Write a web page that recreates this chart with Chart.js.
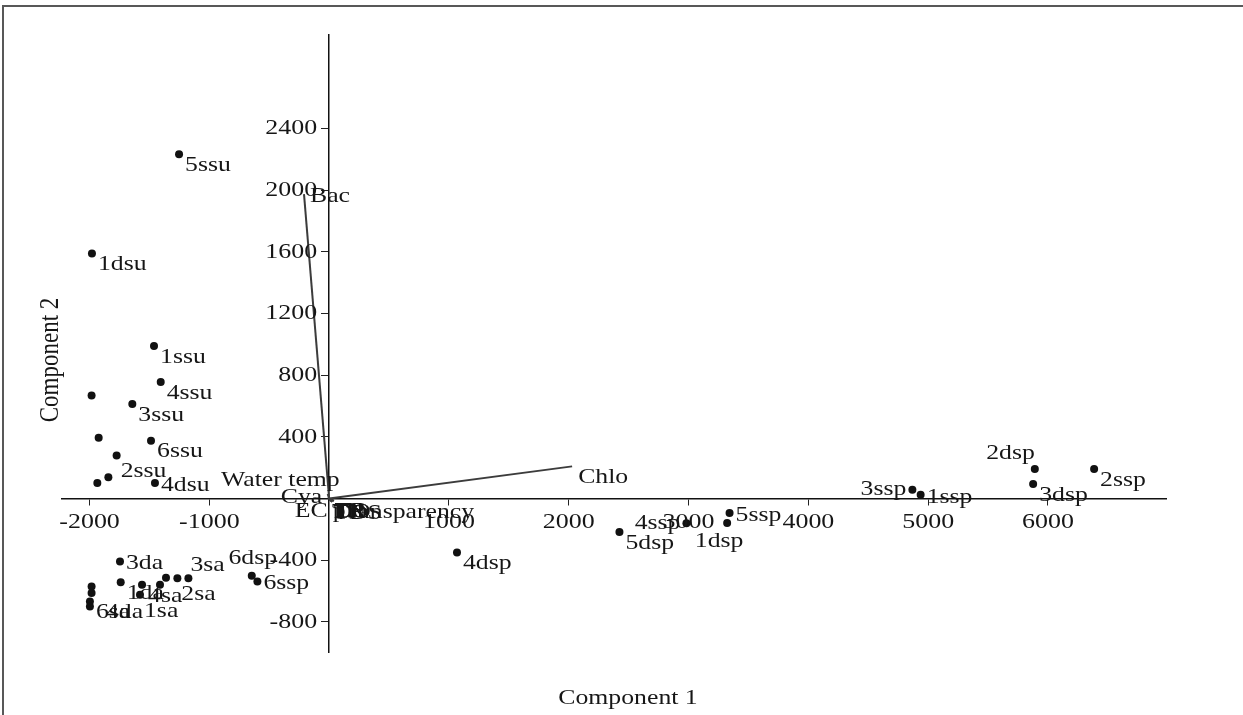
<!DOCTYPE html>
<html>
<head>
<meta charset="utf-8">
<script src="https://cdn.jsdelivr.net/npm/chart.js@4.4.1/dist/chart.umd.min.js"></script>
<style>
  html, body { margin: 0; padding: 0; background: #fff; }
  canvas { display: block; }
</style>
</head>
<body>
<canvas id="pca" width="1243" height="715"></canvas>
<script>
// Sample scores on the first two principal components
const sampleNames = [
  '5ssu', '1dsu', '1ssu', '4ssu', '', '3ssu', '', '6ssu', '2ssu', '', '', '4dsu',
  '3da', '1da', '4sa', '1sa', '', '', '2sa', '3sa', '6sa', '4da', '', '',
  '6dsp', '6ssp', '4dsp', '5dsp', '4ssp', '1dsp', '5ssp', '3ssp', '1ssp', '2dsp', '3dsp', '2ssp'
];
const comp1 = [
  -1253, -1980, -1462, -1406, -1983, -1643, -1924, -1487, -1774, -1843, -1935, -1454,
  -1746, -1740, -1562, -1579, -1362, -1412, -1267, -1175, -1997, -1997, -1983, -1983,
  -646, -599, 1067, 2423, 2982, 3322, 3342, 4868, 4937, 5890, 5876, 6385
];
const comp2 = [
  2233, 1590, 989, 757, 668, 614, 394, 376, 279, 138, 101, 101,
  -408, -542, -559, -624, -514, -559, -516, -516, -668, -700, -570, -613,
  -501, -538, -349, -217, -160, -158, -93, 58, 25, 192, 95, 192
];

// Variable loadings drawn as vectors from the origin
const variableNames = ['Bac', 'Chlo', 'Water temp', 'Cya', 'EC', 'pH', 'DO', 'TN', 'TP', 'TDS', 'Transparency'];
const loading1 = [-210, 2028, -12, -8, -4, 22, 30, 16, 36, 26, 40];
const loading2 = [1975, 209, 30, 8, -6, -10, -14, -18, -8, -22, -16];

// Axis tick values
const xTickValues = [-2000, -1000, 1000, 2000, 3000, 4000, 5000, 6000];
const yTickValues = [-800, -400, 400, 800, 1200, 1600, 2000, 2400];

// Where each label sits relative to its point: [dx, dy, align]
const ANCHORS = {
  r:   [6, 11, 'left'],
  r2:  [4, 16, 'left'],
  e:   [6, 2, 'left'],
  ne:  [2, -13, 'left'],
  n:   [1, -18, 'center'],
  sw:  [-8, 18, 'center'],
  w:   [-6, 0, 'right'],
  nw:  [0, -16, 'right'],
  far: [16, 6, 'left'],
  up:  [12, -14, 'right'],
  swr: [-1, 12, 'right'],
  se:  [1, 11, 'left']
};
const sampleAnchor = [
  'r', 'r', 'r', 'r', 'r', 'r', 'r', 'r', 'r2', 'r', 'r', 'e',
  'e', 'r', 'r', 'r2', 'r', 'r', 'r2', 'ne', 'r', 'far', 'r', 'r',
  'n', 'e', 'r', 'r', 'w', 'sw', 'e', 'w', 'e', 'nw', 'r', 'r'
];
const variableAnchor = ['e', 'r', 'up', 'w', 'swr', 'se', 'se', 'se', 'se', 'se', 'se'];

const SERIF = '"Liberation Serif", "Times New Roman", serif';
const LABEL_STRETCH = 1.17;
const TICK_STRETCH = 1.18;
const INK = '#161616';

// Text widened horizontally on the page (also when the text itself is rotated)
function stretchedText(ctx, text, x, y, align, stretch, rotate) {
  ctx.save();
  ctx.translate(x, y);
  ctx.scale(stretch, 1);
  if (rotate) ctx.rotate(rotate);
  ctx.textAlign = align;
  ctx.textBaseline = 'middle';
  ctx.fillText(text, 0, 0);
  ctx.restore();
}

const scorePoints = comp1.map((v, i) => ({ x: v, y: comp2[i] }));

const vectorSets = variableNames.map((name, i) => ({
  label: name,
  type: 'line',
  data: [{ x: 0, y: 0 }, { x: loading1[i], y: loading2[i] }],
  borderColor: '#3c3c3c',
  borderWidth: 2,
  pointRadius: 0,
  fill: false,
  showLine: true,
  order: 2
}));

const labelPlugin = {
  id: 'biplotLabels',
  beforeDraw(chart) {
    const ctx = chart.ctx;
    ctx.save();
    ctx.fillStyle = '#fff';
    ctx.fillRect(0, 0, chart.width, chart.height);
    // figure frame
    ctx.strokeStyle = '#585858';
    ctx.lineWidth = 2;
    ctx.beginPath();
    ctx.moveTo(3, chart.height);
    ctx.lineTo(3, 6);
    ctx.lineTo(chart.width, 6);
    ctx.stroke();
    ctx.restore();
  },
  afterDraw(chart) {
    const ctx = chart.ctx;
    const xs = chart.scales.x;
    const ys = chart.scales.y;
    const originX = xs.getPixelForValue(0);
    const originY = ys.getPixelForValue(0);
    ctx.save();
    ctx.fillStyle = INK;
    ctx.font = '22px ' + SERIF;
    // tick labels beside the crossing axes
    xs.ticks.forEach(t => {
      stretchedText(ctx, String(t.value), xs.getPixelForValue(t.value), originY + 24, 'center', TICK_STRETCH);
    });
    ys.ticks.forEach(t => {
      stretchedText(ctx, String(t.value), originX - 12, ys.getPixelForValue(t.value), 'right', TICK_STRETCH);
    });
    // sample labels
    const scoreMeta = chart.getDatasetMeta(0);
    scoreMeta.data.forEach((pt, i) => {
      const name = sampleNames[i];
      if (!name) return;
      const a = ANCHORS[sampleAnchor[i]];
      stretchedText(ctx, name, pt.x + a[0], pt.y + a[1], a[2], LABEL_STRETCH);
    });
    // variable labels at vector tips
    variableNames.forEach((name, i) => {
      const tip = chart.getDatasetMeta(i + 1).data[1];
      const a = ANCHORS[variableAnchor[i]];
      stretchedText(ctx, name, tip.x + a[0], tip.y + a[1], a[2], LABEL_STRETCH);
    });
    // axis titles
    stretchedText(ctx, 'Component 1', 628, 698, 'center', LABEL_STRETCH);
    ctx.font = '23px ' + SERIF;
    stretchedText(ctx, 'Component 2', 51, 360, 'center', LABEL_STRETCH, -Math.PI / 2);
    ctx.restore();
  }
};

new Chart(document.getElementById('pca'), {
  type: 'scatter',
  data: {
    datasets: [{
      label: 'Samples',
      data: scorePoints,
      pointRadius: 4,
      pointHoverRadius: 4,
      pointBackgroundColor: '#111',
      pointBorderColor: '#111',
      pointBorderWidth: 0,
      showLine: false,
      order: 1
    }].concat(vectorSets)
  },
  options: {
    responsive: false,
    animation: false,
    devicePixelRatio: 1,
    layout: { padding: { left: 62, right: 77, top: 35, bottom: 63 } },
    plugins: {
      legend: { display: false },
      tooltip: { enabled: false },
      title: { display: false }
    },
    scales: {
      x: {
        type: 'linear',
        position: { y: 0 },
        min: -2230,
        max: 6985,
        afterBuildTicks: (s) => { s.ticks = xTickValues.map(v => ({ value: v })); },
        grid: { drawOnChartArea: false, drawTicks: true, tickLength: 6, color: '#222', lineWidth: 1 },
        border: { display: true, color: '#111', width: 1.5 },
        ticks: { display: false, autoSkip: false }
      },
      y: {
        type: 'linear',
        position: { x: 0 },
        min: -995,
        max: 3007,
        afterBuildTicks: (s) => { s.ticks = yTickValues.map(v => ({ value: v })); },
        grid: { drawOnChartArea: false, drawTicks: true, tickLength: 7, color: '#222', lineWidth: 1 },
        border: { display: true, color: '#111', width: 1.5 },
        ticks: { display: false, autoSkip: false }
      }
    }
  },
  plugins: [labelPlugin]
});
</script>
</body>
</html>
